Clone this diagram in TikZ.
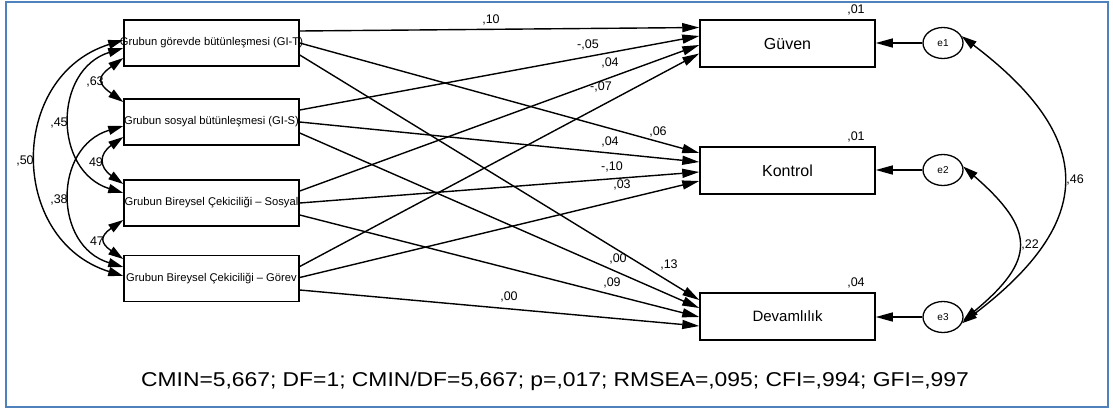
\documentclass[tikz,border=0pt]{standalone}
\usepackage{fontspec}
\setmainfont{Liberation Sans}
\usetikzlibrary{arrows.meta,shapes.geometric,calc}
\definecolor{frameblue}{RGB}{79,129,189}
\begin{document}
\begin{tikzpicture}[x=1pt,y=-1pt,
  basebox/.style={draw, line width=1.5pt, minimum width=175pt, inner sep=0pt},
  lbox/.style={basebox, minimum height=46pt, font=\fontsize{11.2}{13}\selectfont},
  rbox/.style={basebox, minimum height=47pt, font=\fontsize{16}{19}\selectfont},
  err/.style={draw, ellipse, line width=1.3pt, minimum width=40pt, minimum height=31pt, inner sep=0pt, font=\fontsize{10}{12}\selectfont},
  reg/.style={line width=1.4pt, -{Triangle[length=17pt,width=9pt]}},
  cov/.style={line width=1.4pt, {Triangle[length=15pt,width=9pt]}-{Triangle[length=15pt,width=9pt]}},
  coef/.style={font=\fontsize{12.5}{14}\selectfont, inner sep=0pt},
]
\useasboundingbox (0,0) rectangle (1113,410);
\draw[frameblue, line width=2.2pt] (6,2) rectangle (1108,407);

% exogenous boxes
\node[lbox] (b1) at (211.5,43) {\makebox[0pt]{Grubun görevde bütünleşmesi (GI-T)}};
\node[lbox] (b2) at (211.5,122) {\makebox[0pt]{Grubun sosyal bütünleşmesi (GI-S)}};
\node[lbox] (b3) at (211.5,203) {\makebox[0pt]{Grubun Bireysel Çekiciliği – Sosyal}};
\node[lbox] (b4) at (211.5,278.5) {\makebox[0pt]{Grubun Bireysel Çekiciliği – Görev}};

% endogenous boxes
\node[rbox] (g) at (787.5,43.5) {Güven};
\node[rbox] (k) at (787.5,170.5) {Kontrol};
\node[rbox, font=\fontsize{15}{18}\selectfont] (d) at (787.5,316.5) {Devamlılık};

% errors
\node[err] (e1) at (943,43) {e1};
\node[err] (e2) at (943,170) {e2};
\node[err] (e3) at (943,317) {e3};

% regression paths
\draw[reg] ($(b1.east)+(0,-12)$) -- ($(g.west)+(0,-16)$);
\draw[reg] ($(b2.east)+(0,-12)$) -- ($(g.west)+(0,-7.5)$);
\draw[reg] ($(b3.east)+(0,-12)$) -- ($(g.west)+(0,1.5)$);
\draw[reg] ($(b4.east)+(0,-12)$) -- ($(g.west)+(0,10)$);

\draw[reg] ($(b1.east)+(0,0)$) -- ($(k.west)+(0,-17.5)$);
\draw[reg] ($(b2.east)+(0,0)$) -- ($(k.west)+(0,-8.5)$);
\draw[reg] ($(b3.east)+(0,0)$) -- ($(k.west)+(0,1.5)$);
\draw[reg] ($(b4.east)+(0,-1)$) -- ($(k.west)+(0,10.5)$);

\draw[reg] ($(b1.east)+(0,12)$) -- ($(d.west)+(0,-16.5)$);
\draw[reg] ($(b2.east)+(0,11)$) -- ($(d.west)+(0,-8.5)$);
\draw[reg] ($(b3.east)+(0,12)$) -- ($(d.west)+(0,0.5)$);
\draw[reg] ($(b4.east)+(0,11.5)$) -- ($(d.west)+(0,9.5)$);

% error paths
\draw[reg] (e1.west) -- (e1.west -| g.east);
\draw[reg] (e2.west) -- (e2.west -| k.east);
\draw[reg] (e3.west) -- (e3.west -| d.east);

% covariances among exogenous
\draw[cov] ($(b1.west)+(0,15)$) .. controls (97,77) and (97,83) .. ($(b2.west)+(0,-20)$);
\draw[cov] ($(b2.west)+(0,15)$) .. controls (99,154) and (99,167) .. ($(b3.west)+(0,-19)$);
\draw[cov] ($(b3.west)+(0,17)$) .. controls (100,236) and (100,243) .. ($(b4.west)+(0,-19.5)$);
\draw[cov] ($(b1.west)+(0,5)$) .. controls (53,70) and (53,171) .. ($(b3.west)+(0,-10)$);
\draw[cov] ($(b2.west)+(0,4)$) .. controls (53,147) and (53,246) .. ($(b4.west)+(0,-11.5)$);
\draw[cov] ($(b1.west)+(0,-3)$) .. controls (8,76) and (8,240) .. ($(b4.west)+(0,-2.5)$);

% covariances among errors
\draw[cov] (e1.20) .. controls (1096,138) and (1097,221) .. (e3.-18);
\draw[cov] (e2.10) .. controls (1036,230) and (1036,260) .. (e3.-10);

% coefficient labels
\node[coef] (l1) at (491,20) {,10};
\node[coef] (l2) at (588,45) {-,05};
\node[coef] (l3) at (610,63) {,04};
\node[coef] (l4) at (601,87) {-,07};
\node[coef] (l5) at (658,132) {,06};
\node[coef] (l6) at (610,142) {,04};
\node[coef] (l7) at (612,167) {-,10};
\node[coef] (l8) at (622,185) {,03};
\node[coef] (l9) at (618,259) {,00};
\node[coef] (l10) at (669,265) {,13};
\node[coef] (l11) at (612,283) {,09};
\node[coef] (l12) at (509,297) {,00};
\node[coef] (r1) at (856,10) {,01};
\node[coef] (r2) at (856,137) {,01};
\node[coef] (r3) at (856,283) {,04};
\node[coef] (r4) at (1075,180) {,46};
\node[coef] (r5) at (1030,245) {,22};
\node[coef] (c1) at (95,82) {,63};
\node[coef] (c2) at (59,123) {,45};
\node[coef] (c3) at (25,161) {,50};
\node[coef] (c4) at (96,162) {49};
\node[coef] (c5) at (59,200) {,38};
\node[coef] (c6) at (97,241) {47};

% fit statistics
\node[font=\fontsize{20}{24}\selectfont] (fit) at (555,381) {\scalebox{1.143}[1]{CMIN=5,667; DF=1; CMIN/DF=5,667; p=,017; RMSEA=,095; CFI=,994; GFI=,997}};
\end{tikzpicture}
\end{document}
